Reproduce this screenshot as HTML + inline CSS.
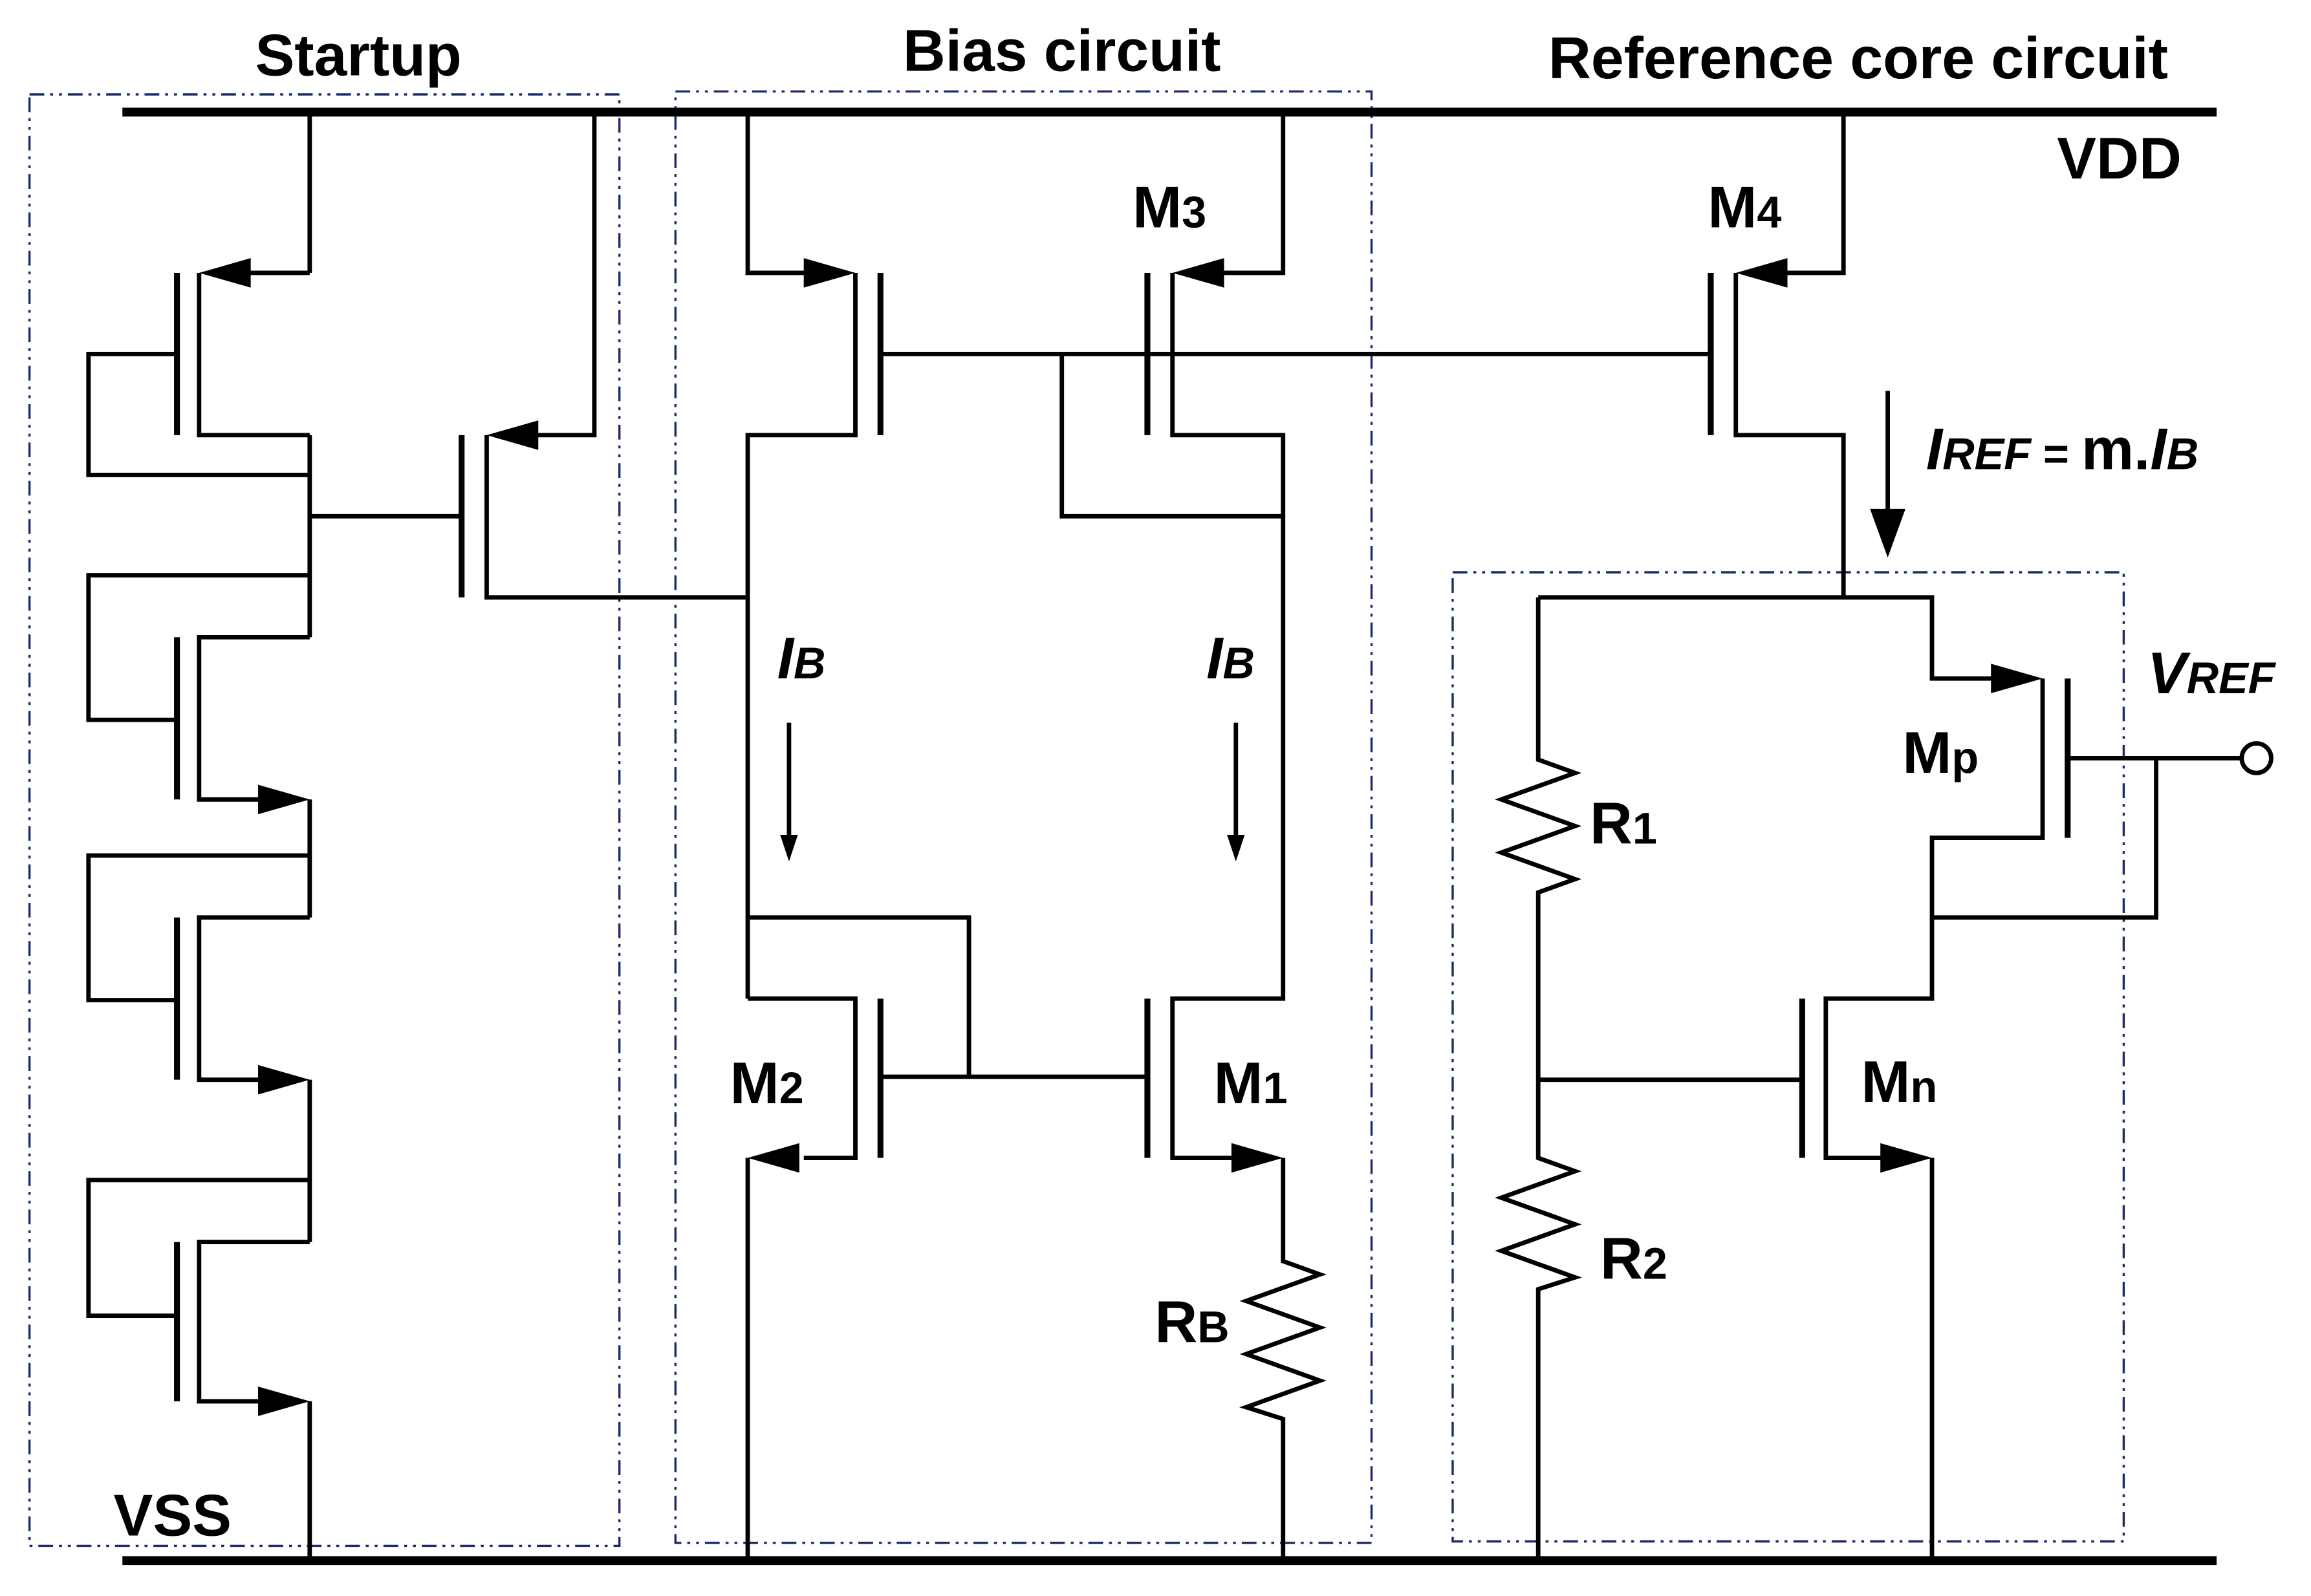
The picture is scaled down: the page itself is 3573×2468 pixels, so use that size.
<!DOCTYPE html>
<html><head><meta charset="utf-8"><style>html,body{margin:0;padding:0;background:#fff}svg{display:block}</style></head><body>
<svg width="3573" height="2468" viewBox="0 0 1567 1082" preserveAspectRatio="none" xmlns="http://www.w3.org/2000/svg">
<g fill="none" stroke="#1a2a6a" stroke-width="1.5" stroke-dasharray="10,4,2,4,2,4">
<rect x="20" y="64" width="400" height="984"/><rect x="458" y="62" width="472" height="984"/><rect x="985" y="388" width="455" height="657"/></g>
<g stroke="#000" stroke-width="6"><line x1="83" y1="76" x2="1503" y2="76"/><line x1="83" y1="1058" x2="1503" y2="1058"/></g>
<g fill="none" stroke="#000" stroke-width="3" stroke-linejoin="miter">
<!-- startup -->
<path d="M210 76V185"/><path d="M210 295V432"/><path d="M210 542V622"/><path d="M210 732V842"/><path d="M210 950V1058"/>
<path d="M210 185H165"/><path d="M135 185V295H210"/><path d="M120 185V295" stroke-width="4"/><path d="M120 240H60V322H210"/>
<path d="M210 350H313"/><path d="M313 295V405" stroke-width="4"/><path d="M403 76V295H360"/><path d="M330 295V405H507"/>
<path d="M210 432H135V542H180"/><path d="M120 432V542" stroke-width="4"/><path d="M120 488H60V390H210"/>
<path d="M210 622H135V732H180"/><path d="M120 622V732" stroke-width="4"/><path d="M120 678H60V580H210"/>
<path d="M210 842H135V950H180"/><path d="M120 842V950" stroke-width="4"/><path d="M120 892H60V800H210"/>
<!-- bias -->
<path d="M507 76V185H550"/><path d="M580 185V295H507V677"/><path d="M507 785V1058"/><path d="M597 185V295" stroke-width="4"/>
<path d="M597 240H1160"/><path d="M870 76V185H825"/><path d="M795 185V295H870V677H795V785H840"/><path d="M778 185V295" stroke-width="4"/>
<path d="M720 240V350H870"/>
<path d="M535 490V570"/><path d="M838 490V570"/>
<path d="M507 622H657V730"/><path d="M507 677H580V785H545"/><path d="M597 677V785" stroke-width="4"/><path d="M597 730H778"/><path d="M778 677V785" stroke-width="4"/>
<path d="M870 785V855L895 864L845 882L895 900L845 918L895 936L845 954L870 962V1058"/>
<!-- core -->
<path d="M1250 76V185H1207"/><path d="M1177 185V295H1250V405"/><path d="M1160 185V295" stroke-width="4"/>
<path d="M1280 265V360"/>
<path d="M1043 405H1310V460H1355"/>
<path d="M1043 405V515L1068 524L1018 542L1068 560L1018 578L1068 596L1043 605V785L1068 794L1018 812L1068 830L1018 848L1068 866L1043 874V1058"/>
<path d="M1043 732H1222"/><path d="M1222 677V785" stroke-width="4"/><path d="M1402 460V568" stroke-width="4"/>
<path d="M1385 460V568H1310V677H1238V785H1280"/><path d="M1310 785V1058"/>
<path d="M1402 514H1520"/><path d="M1310 622H1462V514"/>
</g>
<g fill="#000">
<path d="M135 185L170 175V195z"/><path d="M330 295L365 285V305z"/><path d="M580 185L545 175V195z"/><path d="M795 185L830 175V195z"/><path d="M1177 185L1212 175V195z"/>
<path d="M210 542L175 532V552z"/><path d="M210 732L175 722V742z"/><path d="M210 950L175 940V960z"/>
<path d="M507 785L542 775V795z"/><path d="M870 785L835 775V795z"/><path d="M1385 460L1350 450V470z"/><path d="M1310 785L1275 775V795z"/>
<path d="M535 584L529 566H541z"/><path d="M838 584L832 566H844z"/><path d="M1280 378L1268 345H1292z"/>
</g>
<circle cx="1530" cy="514" r="10" fill="#fff" stroke="#000" stroke-width="3"/>
<g font-family="Liberation Sans, sans-serif" font-weight="bold" font-size="40" fill="#000">
<text x="243" y="51" text-anchor="middle">Startup</text>
<text x="720" y="48" text-anchor="middle">Bias circuit</text>
<text x="1260" y="53" text-anchor="middle">Reference core circuit</text>
<text x="1437" y="121" text-anchor="middle">VDD</text>
<text x="117" y="1041" text-anchor="middle">VSS</text>
<text x="768" y="154">M<tspan font-size="30">3</tspan></text>
<text x="1158" y="154">M<tspan font-size="30">4</tspan></text>
<text x="495" y="748">M<tspan font-size="30">2</tspan></text>
<text x="823" y="748">M<tspan font-size="30">1</tspan></text>
<text x="783" y="910">R<tspan font-size="30">B</tspan></text>
<text x="1078" y="572">R<tspan font-size="30">1</tspan></text>
<text x="1085" y="867">R<tspan font-size="30">2</tspan></text>
<text x="1290" y="524">M<tspan font-size="30">p</tspan></text>
<text x="1262" y="747">M<tspan font-size="30">n</tspan></text>
<text x="527" y="460" font-style="italic">I<tspan font-size="30">B</tspan></text>
<text x="818" y="460" font-style="italic">I<tspan font-size="30">B</tspan></text>
<text x="1456" y="470" font-style="italic">V<tspan font-size="30">REF</tspan></text>
<text x="1306" y="318"><tspan font-style="italic">I</tspan><tspan font-size="30" font-style="italic">REF</tspan><tspan font-size="30"> = </tspan>m.<tspan font-style="italic">I</tspan><tspan font-size="30" font-style="italic">B</tspan></text>
</g>
</svg>
</body></html>
